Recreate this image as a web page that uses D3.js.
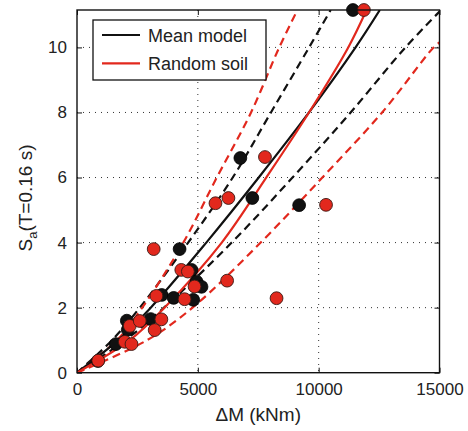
<!DOCTYPE html>
<html>
<head>
<meta charset="utf-8">
<script src="https://cdn.jsdelivr.net/npm/d3@7"></script>
<style>
	body { margin: 0; background: #fff; }
	svg { font-family: 'Liberation Sans', Arial, Helvetica, sans-serif; }
	.tick-label { font-size: 17px; fill: #222; }
	.axis-label { font-size: 19px; fill: #222; }
	.legend-text { font-size: 18px; fill: #222; }
</style>
</head>
<body>
<svg id="chart-svg" width="468" height="431"></svg>
<script>
const WIDTH = 468;
const HEIGHT = 431;
const PADDING = { top: 10, bottom: 58.3, left: 77, right: 28.5 };

const X_TICKS = [0, 5000, 10000, 15000];
const Y_TICKS = [0, 2, 4, 6, 8, 10];

// scatter points [ΔM (kNm), Sa]
const meanPoints = [
	[866, 0.36], [1608, 0.88], [2061, 1.6], [2100, 1.32], [3050, 1.65],
	[3504, 2.39], [4000, 2.3], [4810, 2.24], [4245, 3.8], [4740, 3.16],
	[4946, 2.8], [5152, 2.64], [6760, 6.6], [7255, 5.37], [9192, 5.15],
	[11418, 11.15]
];
const randomPoints = [
	[878, 0.37], [1979, 0.95], [2255, 0.88], [2185, 1.44], [2597, 1.59],
	[3491, 1.64], [3215, 1.31], [3174, 3.8], [3285, 2.36], [4452, 2.26],
	[4316, 3.16], [4588, 3.11], [4864, 2.65], [5730, 5.21], [6266, 5.37],
	[6212, 2.83], [7778, 6.63], [8257, 2.29], [10305, 5.16], [11872, 11.15]
];

// fitted curves
const meanLine = [[0, 0], [1700, 1], [3050, 2], [5350, 4], [7520, 6], [9600, 8], [11527, 10], [12531, 11.15]];
const meanUpper = [[0, 0], [1450, 1], [2600, 2], [4600, 4], [6444, 6], [8025, 8], [9604, 10], [10498, 11.15]];
const meanLower = [[0, 0], [2000, 1], [3600, 2], [6400, 4], [8917, 6], [11323, 8], [13589, 10], [15000, 11.1]];
const randomLine = [[0, 0], [2180, 1], [3620, 2], [5990, 4], [7830, 6], [9600, 8], [11224, 10], [11980, 11.15]];
const randomUpper = [[0, 0], [1650, 1], [2700, 2], [4400, 4], [5784, 6], [7201, 8], [8368, 10], [9122, 11.15]];
const randomLower = [[0, 0], [2900, 1], [4780, 2], [7600, 4], [10153, 6], [12626, 8], [14755, 10], [15000, 10.15]];

const BLACK = '#111111';
const RED = '#e2281d';

const svg = d3.select('#chart-svg');

const xScale = d3.scaleLinear().domain([0, 15000]).range([PADDING.left, WIDTH - PADDING.right]);
const yScale = d3.scaleLinear().domain([0, 11.15]).range([HEIGHT - PADDING.bottom, PADDING.top]);
const x0 = xScale.range()[0], x1 = xScale.range()[1];
const yTop = yScale.range()[1], yBot = yScale.range()[0];

svg.append('clipPath').attr('id', 'plot-clip')
	.append('rect').attr('x', x0).attr('y', yTop).attr('width', x1 - x0).attr('height', yBot - yTop);

// grid (dotted)
const grid = svg.append('g').attr('id', 'grid');
grid.selectAll('line.gx')
	.data(X_TICKS.filter((d) => d > 0 && d < 15000))
	.enter().append('line')
	.attr('x1', (d) => xScale(d)).attr('x2', (d) => xScale(d))
	.attr('y1', yTop).attr('y2', yBot)
	.attr('stroke', '#333').attr('stroke-width', 1).attr('stroke-dasharray', '1,5');
grid.selectAll('line.gy')
	.data(Y_TICKS.filter((d) => d > 0))
	.enter().append('line')
	.attr('y1', (d) => yScale(d)).attr('y2', (d) => yScale(d))
	.attr('x1', x0).attr('x2', x1)
	.attr('stroke', '#333').attr('stroke-width', 1).attr('stroke-dasharray', '1,5');

// axes, ticks inward on all four sides
const tickLen = 5;
svg.append('g').attr('transform', 'translate(0,' + yBot + ')')
	.call(d3.axisBottom(xScale).tickValues(X_TICKS).tickSize(-tickLen).tickPadding(10).tickFormat(d3.format('d')))
	.call((g) => g.select('.domain').remove());
svg.append('g').attr('transform', 'translate(0,' + yTop + ')')
	.call(d3.axisTop(xScale).tickValues(X_TICKS).tickSize(-tickLen).tickFormat(''))
	.call((g) => g.select('.domain').remove());
svg.append('g').attr('transform', 'translate(' + x0 + ',0)')
	.call(d3.axisLeft(yScale).tickValues(Y_TICKS).tickSize(-tickLen).tickPadding(10))
	.call((g) => g.select('.domain').remove());
svg.append('g').attr('transform', 'translate(' + x1 + ',0)')
	.call(d3.axisRight(yScale).tickValues(Y_TICKS).tickSize(-tickLen).tickFormat(''))
	.call((g) => g.select('.domain').remove());
svg.selectAll('.tick line').attr('stroke', BLACK).attr('stroke-width', 1);
svg.selectAll('.tick text').attr('class', 'tick-label').attr('font-family', null).attr('font-size', null);

// curves
const lineGen = d3.line().x((d) => xScale(d[0])).y((d) => yScale(d[1])).curve(d3.curveCatmullRom.alpha(0.5));
const curves = [
	{ data: meanUpper, color: BLACK, dash: '8,5' },
	{ data: meanLower, color: BLACK, dash: '8,5' },
	{ data: randomUpper, color: RED, dash: '8,5' },
	{ data: randomLower, color: RED, dash: '8,5' },
	{ data: meanLine, color: BLACK, dash: null },
	{ data: randomLine, color: RED, dash: null }
];
const curveG = svg.append('g').attr('clip-path', 'url(#plot-clip)');
curves.forEach((c) => {
	curveG.append('path')
		.attr('d', lineGen(c.data))
		.attr('fill', 'none')
		.attr('stroke', c.color)
		.attr('stroke-width', 2.2)
		.attr('stroke-dasharray', c.dash);
});

// markers
svg.append('g').selectAll('circle')
	.data(meanPoints).enter().append('circle')
	.attr('cx', (d) => xScale(d[0])).attr('cy', (d) => yScale(d[1]))
	.attr('r', 6.4).attr('fill', BLACK).attr('stroke', '#000').attr('stroke-width', 0.8);
svg.append('g').selectAll('circle')
	.data(randomPoints).enter().append('circle')
	.attr('cx', (d) => xScale(d[0])).attr('cy', (d) => yScale(d[1]))
	.attr('r', 6.4).attr('fill', RED).attr('stroke', '#3a1a14').attr('stroke-width', 0.9);

// frame
svg.append('rect')
	.attr('x', x0).attr('y', yTop).attr('width', x1 - x0).attr('height', yBot - yTop)
	.attr('fill', 'none').attr('stroke', BLACK).attr('stroke-width', 1.4);

// legend
const legendG = svg.append('g').attr('id', 'legend');
legendG.append('rect')
	.attr('x', 93).attr('y', 20).attr('width', 173).attr('height', 60)
	.attr('fill', '#fff').attr('stroke', BLACK).attr('stroke-width', 1.3);
[['Mean model', BLACK], ['Random soil', RED]].forEach((item, i) => {
	const y = 35 + i * 28.3;
	legendG.append('line')
		.attr('x1', 102).attr('x2', 140).attr('y1', y).attr('y2', y)
		.attr('stroke', item[1]).attr('stroke-width', 2.2);
	legendG.append('text')
		.attr('class', 'legend-text')
		.attr('x', 148).attr('y', y + 6.5)
		.text(item[0]);
});

// axis labels
svg.append('text')
	.attr('class', 'axis-label')
	.attr('x', (x0 + x1) / 2).attr('y', 421)
	.attr('text-anchor', 'middle')
	.text('ΔM (kNm)');
const yLabel = svg.append('text')
	.attr('class', 'axis-label')
	.attr('transform', 'translate(32,' + 198 + ') rotate(-90)')
	.attr('text-anchor', 'middle');
yLabel.append('tspan').text('S');
yLabel.append('tspan').attr('font-size', '13px').attr('dy', 5).text('a');
yLabel.append('tspan').attr('dy', -5).text('(T=0.16 s)');
</script>
</body>
</html>
